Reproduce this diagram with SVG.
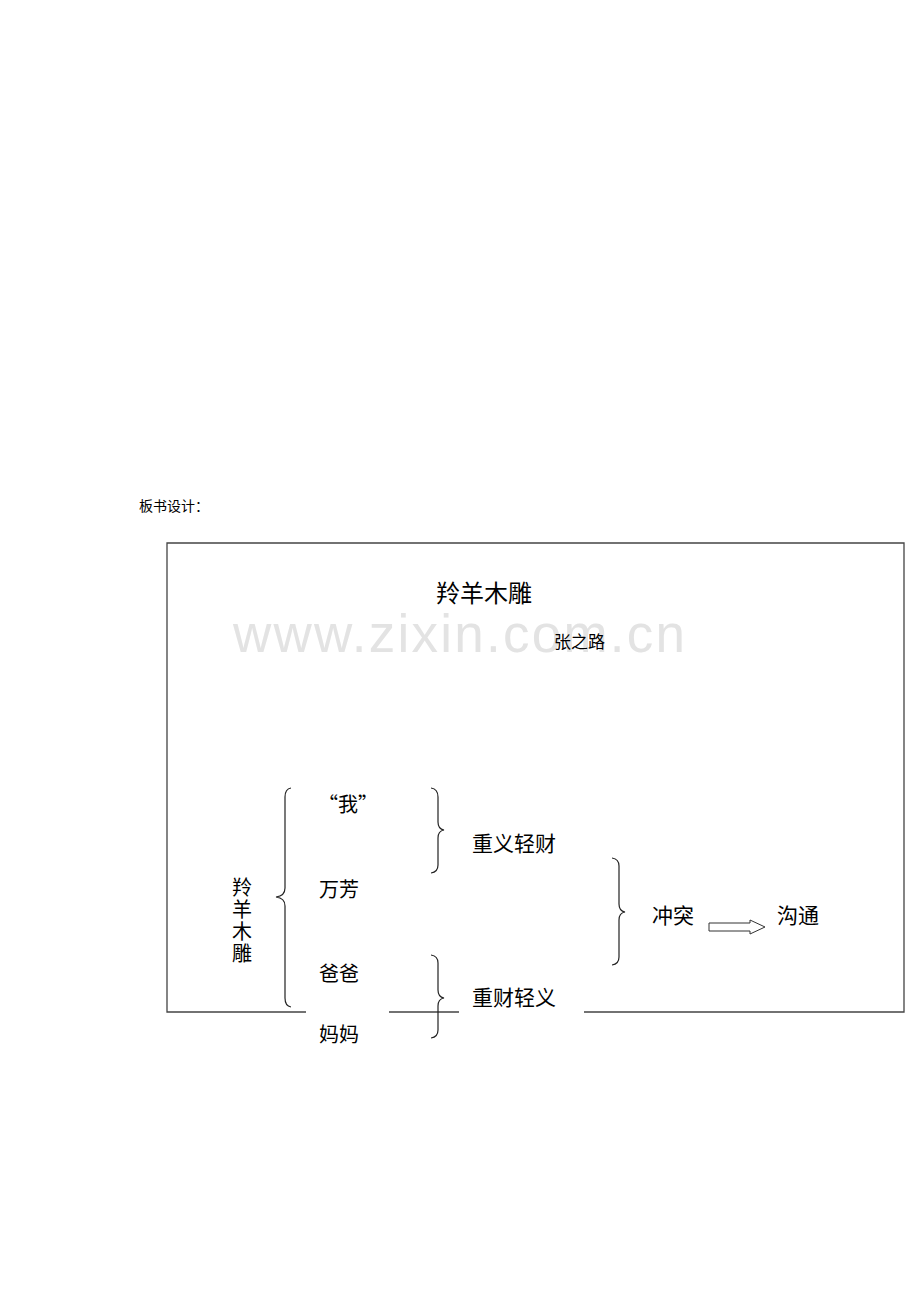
<svg xmlns="http://www.w3.org/2000/svg" width="920" height="1302" viewBox="0 0 920 1302">
<style>
text{font-family:"Noto Sans CJK SC","Liberation Sans",sans-serif;fill:#000}
.b{fill:none;stroke:#222;stroke-width:1.2}
.l{fill:none;stroke:#444;stroke-width:1.3}
</style>
<rect width="920" height="1302" fill="#fff"/>
<text x="139" y="511" font-size="14">板书设计：</text>
<g id="frame">
<path class="l" d="M306 1012H167V543H904V1012H584M389 1012H459"/>
</g>
<text x="233" y="652" font-size="53" style="font-family:'Liberation Sans',sans-serif;fill:#e3e3e3" textLength="452">www.zixin.com.cn</text>
<g id="title"><text x="436" y="602" font-size="24">羚羊木雕</text></g>
<g id="author"><text x="554" y="648" font-size="17">张之路</text></g>
<g id="vtitle"><text x="242" y="877" font-size="20" style="writing-mode:vertical-rl;letter-spacing:2.3px">羚羊木雕</text></g>
<g id="wo"><text x="318" y="812" font-size="20">“我”</text></g>
<g id="wanfang"><text x="319" y="897" font-size="20">万芳</text></g>
<g id="baba"><text x="319" y="981" font-size="20">爸爸</text></g>
<g id="mama"><text x="319" y="1042" font-size="20">妈妈</text></g>
<g id="zhongyi"><text x="472" y="851" font-size="21">重义轻财</text></g>
<g id="zhongcai"><text x="472" y="1005" font-size="21">重财轻义</text></g>
<g id="chongtu"><text x="652" y="923" font-size="21">冲突</text></g>
<g id="goutong"><text x="777" y="923" font-size="21">沟通</text></g>
<g id="connectors">
<path class="b" d="M291 788Q285 789 285 797V888Q285 896 276 897Q285 898 285 906V998Q285 1006 291 1007"/>
<path class="b" d="M431 788Q438 789 438 797V822Q438 829 444 830Q438 831 438 838V865Q438 872 431 873"/>
<path class="b" d="M431 955Q438 956 438 963V990Q438 997 444 998Q438 999 438 1006V1030Q438 1037 431 1038"/>
<path class="b" d="M612 858Q619 859 619 866V904Q619 911 625 912Q619 913 619 920V957Q619 964 612 965"/>
<path fill="#fff" stroke="#333" stroke-width="1" d="M709 923H750V920L765 927L750 934V931H709Z"/>
</g>
</svg>
